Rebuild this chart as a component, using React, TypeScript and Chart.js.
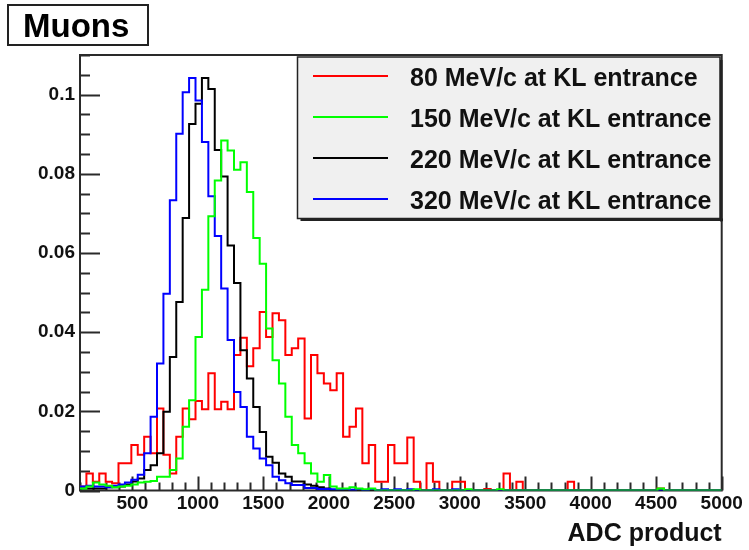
import React, { useEffect, useRef } from 'react';
import { Chart, registerables } from 'chart.js';

Chart.register(...registerables);

// ---- axis definition ----
const X_MIN = 100;
const X_MAX = 5000;
const BIN_COUNT = 100;
const Y_MIN = 0;
const Y_MAX = 0.11;
const X_TICKS = [500, 1000, 1500, 2000, 2500, 3000, 3500, 4000, 4500, 5000];
const Y_TICKS = [0, 0.02, 0.04, 0.06, 0.08, 0.1];
const Y_TICK_LABELS = ['0', '0.02', '0.04', '0.06', '0.08', '0.1'];

const TITLE = 'Muons';
const X_TITLE = 'ADC product';
const SERIES_LABELS = [
  '80 MeV/c at KL entrance',
  '150 MeV/c at KL entrance',
  '220 MeV/c at KL entrance',
  '320 MeV/c at KL entrance',
];
const SERIES_COLORS = ['#ff0000', '#00ff00', '#000000', '#0000ff'];

// ---- bin contents (100 bins each) ----
const red80 = [
  0.001, 0.0043, 0.0022, 0.0043, 0.0022, 0.0018, 0.0069, 0.0069, 0.0115, 0.009,
  0.0136, 0.0094, 0.0207, 0.009, 0.0043, 0.0136, 0.0207, 0.018, 0.0226, 0.0205,
  0.0296, 0.0205, 0.0224, 0.0205, 0.0342, 0.0386, 0.0314, 0.0359, 0.0451, 0.0388,
  0.0448, 0.043, 0.0342, 0.0359, 0.0384, 0.0182, 0.0342, 0.0296, 0.027, 0.0253,
  0.0296, 0.0136, 0.0161, 0.0207, 0.0069, 0.0115, 0.0022, 0.0022, 0.0115, 0.0069,
  0.0069, 0.0134, 0.0022, 0, 0.0069, 0.0022, 0, 0, 0.0022, 0.0022,
  0, 0, 0, 0.0004, 0, 0, 0.0043, 0, 0.0022, 0,
  0, 0, 0, 0, 0, 0, 0.0022, 0, 0, 0,
  0, 0, 0, 0, 0, 0, 0, 0, 0, 0,
  0.0005, 0, 0, 0, 0, 0, 0, 0, 0, 0,
];
const green150 = [
  0.0005, 0.001, 0.002, 0.0015, 0.0012, 0.0008, 0.001, 0.0012, 0.0015, 0.002,
  0.0022, 0.0024, 0.0035, 0.0035, 0.0052, 0.0081, 0.0161, 0.0228, 0.0388, 0.0507,
  0.0693, 0.0783, 0.0884, 0.0859, 0.081, 0.0829, 0.0754, 0.0638, 0.0573, 0.0409,
  0.0329, 0.027, 0.0186, 0.0115, 0.0094, 0.0069, 0.0043, 0.0022, 0.0039, 0.001,
  0.0005, 0.0005, 0.0008, 0.0005, 0.0003, 0.0005, 0, 0, 0, 0,
  0, 0, 0.0003, 0, 0, 0, 0, 0, 0, 0,
  0.0003, 0, 0, 0, 0, 0.0003, 0, 0, 0, 0,
  0, 0, 0, 0, 0, 0, 0, 0, 0, 0,
  0, 0, 0, 0, 0, 0, 0, 0, 0, 0,
  0.0005, 0, 0, 0, 0, 0, 0, 0, 0, 0,
];
const black220 = [
  0.0005, 0.0005, 0.0005, 0.0005, 0.0008, 0.0008, 0.001, 0.0015, 0.0023, 0.003,
  0.0052, 0.0064, 0.0094, 0.0199, 0.0337, 0.0476, 0.0688, 0.0926, 0.0977, 0.1042,
  0.1014, 0.086, 0.0793, 0.0619, 0.0524, 0.0354, 0.0283, 0.0211, 0.0148, 0.0085,
  0.007, 0.0043, 0.0035, 0.0023, 0.0023, 0.0015, 0.0012, 0.0008, 0.0005, 0,
  0, 0, 0, 0, 0, 0, 0, 0, 0, 0,
  0, 0, 0, 0, 0, 0, 0, 0, 0, 0,
  0, 0, 0, 0, 0, 0, 0, 0, 0, 0,
  0, 0, 0, 0, 0, 0, 0, 0, 0, 0,
  0, 0, 0, 0, 0, 0, 0, 0, 0, 0,
  0, 0, 0, 0, 0, 0, 0, 0, 0, 0,
];
const blue320 = [
  0.001, 0.0012, 0.001, 0.001, 0.0008, 0.0012, 0.0015, 0.002, 0.0027, 0.004,
  0.0094, 0.0186, 0.0321, 0.0497, 0.0733, 0.0901, 0.1006, 0.1042, 0.0985, 0.088,
  0.0743, 0.0643, 0.051, 0.038, 0.0249, 0.0211, 0.0136, 0.0106, 0.0081, 0.0064,
  0.0035, 0.0026, 0.0018, 0.0014, 0.0014, 0.0006, 0.0006, 0.0004, 0.0004, 0.0003,
  0.0003, 0.0004, 0.0002, 0.0004, 0, 0.0004, 0, 0.0003, 0, 0.0003,
  0, 0.0003, 0, 0, 0, 0.0003, 0, 0, 0.0003, 0,
  0, 0, 0, 0, 0, 0, 0, 0, 0, 0,
  0, 0, 0, 0, 0, 0, 0, 0, 0, 0,
  0, 0, 0, 0, 0, 0, 0, 0, 0, 0,
  0, 0, 0, 0, 0, 0, 0, 0, 0, 0,
];

const SERIES = [red80, green150, black220, blue320];
const DRAW_ORDER = [3, 0, 2, 1];

const BIN_EDGES = Array.from(
  { length: BIN_COUNT + 1 },
  (_, i) => X_MIN + (i * (X_MAX - X_MIN)) / BIN_COUNT
);

const FONT_FAMILY = '"Liberation Sans", Arial, Helvetica, sans-serif';
const TEXT_COLOR = '#111111';
const FRAME_COLOR = '#2a2a2a';

const framePlugin = {
  id: 'rootFrame',
  beforeDatasetsDraw(chart: any) {
    const { ctx, chartArea: a, scales } = chart;
    const xs = scales.x;
    const ys = scales.y;
    ctx.save();
    ctx.strokeStyle = FRAME_COLOR;
    ctx.lineWidth = 2;
    ctx.strokeRect(a.left, a.top, a.right - a.left, a.bottom - a.top);
    ctx.beginPath();
    // y ticks (inside), major every 0.02, minor every 0.005
    for (let i = 0; i * 0.005 <= Y_MAX + 1e-9; i++) {
      const py = Math.round(ys.getPixelForValue(i * 0.005)) + 0.5;
      const len = i % 4 === 0 ? 20 : 10;
      ctx.moveTo(a.left, py);
      ctx.lineTo(a.left + len, py);
    }
    // x ticks (inside), major every 500, minor every 100
    for (let v = 100; v <= X_MAX; v += 100) {
      const px = Math.round(xs.getPixelForValue(v)) + 0.5;
      const len = v % 500 === 0 ? 14 : 8;
      ctx.moveTo(px, a.bottom);
      ctx.lineTo(px, a.bottom - len);
    }
    ctx.stroke();
    ctx.restore();
  },
  afterDraw(chart: any) {
    const { ctx } = chart;
    ctx.save();
    // Title box
    ctx.fillStyle = '#ffffff';
    ctx.fillRect(8, 5, 140, 40);
    ctx.strokeStyle = '#222222';
    ctx.lineWidth = 2;
    ctx.strokeRect(8, 5, 140, 40);
    ctx.fillStyle = '#000000';
    ctx.font = `bold 33px ${FONT_FAMILY}`;
    ctx.textBaseline = 'alphabetic';
    ctx.textAlign = 'left';
    ctx.fillText(TITLE, 23, 37);

    // Legend box
    const L = { left: 297.5, top: 57, right: 720, bottom: 218.5 };
    ctx.fillStyle = '#f0f0f0';
    ctx.fillRect(L.left, L.top, L.right - L.left, L.bottom - L.top);
    ctx.strokeStyle = '#222222';
    ctx.lineWidth = 1.5;
    ctx.strokeRect(L.left, L.top, L.right - L.left, L.bottom - L.top);
    ctx.fillStyle = '#222222';
    ctx.fillRect(L.right, L.top + 3, 2.5, L.bottom - L.top);
    ctx.fillRect(L.left + 3, L.bottom, L.right - L.left, 2.5);

    const rowY = [76, 117, 158, 199];
    const datasets = chart.data.datasets;
    ctx.font = `bold 25px ${FONT_FAMILY}`;
    for (let i = 0; i < SERIES_LABELS.length; i++) {
      const ds = datasets.find((d: any) => d.label === SERIES_LABELS[i]);
      ctx.strokeStyle = ds.borderColor;
      ctx.lineWidth = 2;
      ctx.beginPath();
      ctx.moveTo(313, rowY[i]);
      ctx.lineTo(388, rowY[i]);
      ctx.stroke();
      ctx.fillStyle = TEXT_COLOR;
      ctx.fillText(ds.label, 410, rowY[i] + 9.5);
    }
    ctx.restore();
  },
};

export default function App() {
  const canvasRef = useRef<HTMLCanvasElement>(null);

  useEffect(() => {
    const canvas = canvasRef.current;
    if (!canvas) return;
    const tickFont = { family: FONT_FAMILY, size: 19, weight: 'bold' as const };
    const chart = new Chart(canvas, {
      type: 'line',
      data: {
        datasets: SERIES.map((vals, s) => ({
          label: SERIES_LABELS[s],
          data: BIN_EDGES.map((x, i) => ({ x, y: vals[Math.min(i, vals.length - 1)] })),
          borderColor: SERIES_COLORS[s],
          backgroundColor: SERIES_COLORS[s],
          borderWidth: 2,
          pointRadius: 0,
          fill: false,
          tension: 0,
          stepped: 'before' as const,
          order: DRAW_ORDER[s],
        })),
      },
      options: {
        responsive: false,
        devicePixelRatio: 1,
        animation: false,
        events: [],
        layout: { padding: { top: 55, right: 27.3, bottom: 0, left: 0 } },
        plugins: {
          legend: { display: false },
          tooltip: { enabled: false },
          title: { display: false },
        },
        scales: {
          x: {
            type: 'linear',
            min: X_MIN,
            max: X_MAX,
            grid: { display: false, drawTicks: false },
            border: { display: false },
            ticks: {
              padding: 2,
              maxRotation: 0,
              minRotation: 0,
              autoSkip: false,
              font: tickFont,
              color: TEXT_COLOR,
              callback: (v: any) => String(v),
            },
            afterBuildTicks: (s: any) => {
              s.ticks = X_TICKS.map((value) => ({ value }));
            },
            afterFit: (s: any) => {
              s.height = 59.5;
            },
            title: {
              display: true,
              text: X_TITLE,
              align: 'end',
              color: TEXT_COLOR,
              font: { family: FONT_FAMILY, size: 25, weight: 'bold' },
              padding: { top: 0, bottom: 0.5 },
            },
          },
          y: {
            type: 'linear',
            min: Y_MIN,
            max: Y_MAX,
            grid: { display: false, drawTicks: false },
            border: { display: false },
            ticks: {
              padding: 5,
              font: tickFont,
              color: TEXT_COLOR,
              callback: (v: any) => {
                const idx = Y_TICKS.findIndex((t) => Math.abs(t - v) < 1e-9);
                return idx >= 0 ? Y_TICK_LABELS[idx] : '';
              },
            },
            afterBuildTicks: (s: any) => {
              s.ticks = Y_TICKS.map((value) => ({ value }));
            },
            afterFit: (s: any) => {
              s.width = 80;
            },
          },
        },
      },
      plugins: [framePlugin],
    } as any);
    return () => chart.destroy();
  }, []);

  return (
    <div
      style={{
        position: 'absolute',
        left: 0,
        top: 0,
        width: 749,
        height: 550,
        background: '#ffffff',
      }}
    >
      <canvas
        ref={canvasRef}
        width={749}
        height={550}
        style={{ width: 749, height: 550, display: 'block' }}
      />
    </div>
  );
}
